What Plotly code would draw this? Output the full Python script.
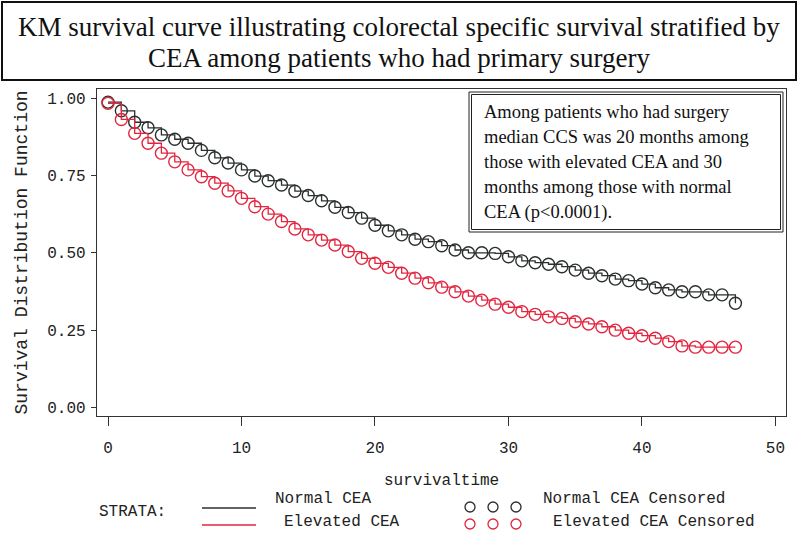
import plotly.graph_objects as go

# ---------------- data ----------------
months = list(range(0, 48))
normal_cea = [0.987, 0.959, 0.922, 0.904, 0.881, 0.867, 0.854, 0.831, 0.807, 0.790,
              0.768, 0.748, 0.733, 0.719, 0.699, 0.685, 0.668, 0.647, 0.630, 0.612,
              0.589, 0.571, 0.558, 0.544, 0.536, 0.523, 0.509, 0.500, 0.500, 0.498,
              0.487, 0.474, 0.468, 0.463, 0.455, 0.444, 0.434, 0.426, 0.415, 0.410,
              0.399, 0.387, 0.380, 0.374, 0.374, 0.364, 0.364, 0.337]
elevated_cea = [0.983, 0.931, 0.886, 0.854, 0.822, 0.794, 0.768, 0.746, 0.725, 0.700,
                0.676, 0.649, 0.625, 0.601, 0.577, 0.558, 0.541, 0.525, 0.504, 0.482,
                0.466, 0.453, 0.434, 0.418, 0.403, 0.389, 0.374, 0.360, 0.347, 0.334,
                0.324, 0.310, 0.301, 0.293, 0.288, 0.277, 0.270, 0.261, 0.250, 0.240,
                0.232, 0.224, 0.213, 0.199, 0.195, 0.195, 0.195, 0.195]
x_ticks = [0, 10, 20, 30, 40, 50]
y_ticks = [0.00, 0.25, 0.50, 0.75, 1.00]
y_tick_labels = ["0.00", "0.25", "0.50", "0.75", "1.00"]

title_lines = ["KM survival curve illustrating colorectal specific survival stratified by",
               "CEA among patients who had primary surgery"]
note_lines = ["Among patients who had surgery",
              "median CCS was 20 months among",
              "those with elevated CEA and 30",
              "months among those with normal",
              "CEA (p<0.0001)."]

BLACK = "#2b2f2f"
RED = "#e2263f"
TXT = "#222222"
MONO = "Liberation Mono"
SERIF = "Liberation Serif"

W, H = 799, 533
L, R, T, B = 97, 13, 89, 117
PW, PH = W - L - R, H - T - B


def px(x):
    return (x - L) / PW


def py(y):
    return (H - B - y) / PH


fig = go.Figure()
for vals, col, name in [(normal_cea, BLACK, "Normal CEA"), (elevated_cea, RED, "Elevated CEA")]:
    fig.add_trace(go.Scatter(x=months, y=vals, mode="lines", line=dict(color=col, width=1.3, shape="hv"),
                             name=name, showlegend=False, hoverinfo="skip"))
    fig.add_trace(go.Scatter(x=months, y=vals, mode="markers",
                             marker=dict(symbol="circle-open", size=12, color=col, line=dict(width=1.4)),
                             name=name + " Censored", showlegend=False))

shapes = []
annotations = []

# Title box
shapes.append(dict(type="rect", xref="paper", yref="paper", x0=px(2), x1=px(796), y0=py(2), y1=py(80),
                   line=dict(color="#111111", width=2)))
for i, line in enumerate(title_lines):
    annotations.append(dict(xref="paper", yref="paper", x=px(399), y=py(27 + 31 * i), text=line,
                            showarrow=False, xanchor="center", yanchor="middle",
                            font=dict(family=SERIF, size=27, color="#111111")))

# Note box (double border)
shapes.append(dict(type="rect", xref="paper", yref="paper", x0=px(469), x1=px(783), y0=py(92), y1=py(232),
                   line=dict(color="#222222", width=1), fillcolor="white", layer="above"))
shapes.append(dict(type="rect", xref="paper", yref="paper", x0=px(471.5), x1=px(780.5), y0=py(94.5), y1=py(229.5),
                   line=dict(color="#222222", width=1), layer="above"))
for i, line in enumerate(note_lines):
    annotations.append(dict(xref="paper", yref="paper", x=px(482), y=py(112 + 25 * i), text=line,
                            showarrow=False, xanchor="left", yanchor="middle",
                            font=dict(family=SERIF, size=18.5, color="#111111")))

# Legend
annotations.append(dict(xref="paper", yref="paper", x=px(97), y=py(512), text="STRATA:", showarrow=False,
                        xanchor="left", yanchor="middle", font=dict(family=MONO, size=16, color=TXT)))
legend_rows = [("Normal CEA", "Normal CEA Censored", BLACK, 499, 508, 273, 541),
               ("Elevated CEA", "Elevated CEA Censored", RED, 522, 525, 282, 551)]
for lab, clab, col, ty, ly, tx, ctx in legend_rows:
    shapes.append(dict(type="line", xref="paper", yref="paper", x0=px(202), x1=px(256), y0=py(ly), y1=py(ly),
                       line=dict(color=col, width=1.5)))
    annotations.append(dict(xref="paper", yref="paper", x=px(tx), y=py(ty), text=lab, showarrow=False,
                            xanchor="left", yanchor="middle", font=dict(family=MONO, size=16, color=TXT)))
    for cx in (470, 493, 516):
        shapes.append(dict(type="circle", xref="paper", yref="paper", xsizemode="pixel", ysizemode="pixel",
                           xanchor=px(cx), yanchor=py(ly - 1), x0=-5, x1=5, y0=-5, y1=5,
                           line=dict(color=col, width=1.3)))
    annotations.append(dict(xref="paper", yref="paper", x=px(ctx), y=py(ty), text=clab, showarrow=False,
                            xanchor="left", yanchor="middle", font=dict(family=MONO, size=16, color=TXT)))

annotations.append(dict(xref="paper", yref="paper", x=px(441), y=py(481), text="survivaltime", showarrow=False,
                        xanchor="center", yanchor="middle", font=dict(family=MONO, size=16, color=TXT)))

fig.update_layout(
    width=W, height=H, autosize=False,
    margin=dict(l=L, r=R, t=T, b=B, pad=0),
    paper_bgcolor="white", plot_bgcolor="white",
    shapes=shapes, annotations=annotations, showlegend=False,
    xaxis=dict(range=[-0.824, 50.79], tickvals=x_ticks, ticks="outside", ticklen=9, tickwidth=1.3,
               tickcolor="#333333", showline=True, linecolor="#333333", linewidth=1.3, mirror=True,
               showgrid=False, zeroline=False, ticklabelstandoff=8,
               tickfont=dict(family=MONO, size=16, color=TXT)),
    yaxis=dict(range=[-0.0275, 1.0294], tickvals=y_ticks, ticktext=y_tick_labels, ticks="outside", ticklen=5,
               tickwidth=1.3, tickcolor="#333333", showline=True, linecolor="#333333", linewidth=1.3,
               mirror=True, showgrid=False, zeroline=False, ticklabelstandoff=2,
               tickfont=dict(family=MONO, size=16, color=TXT),
               title=dict(text="Survival Distribution Function", font=dict(family=MONO, size=18, color=TXT),
                          standoff=14)),
)

fig.write_html("out.html", config={"displayModeBar": False},
               post_script="document.body.style.margin='0';document.body.style.padding='0';")
